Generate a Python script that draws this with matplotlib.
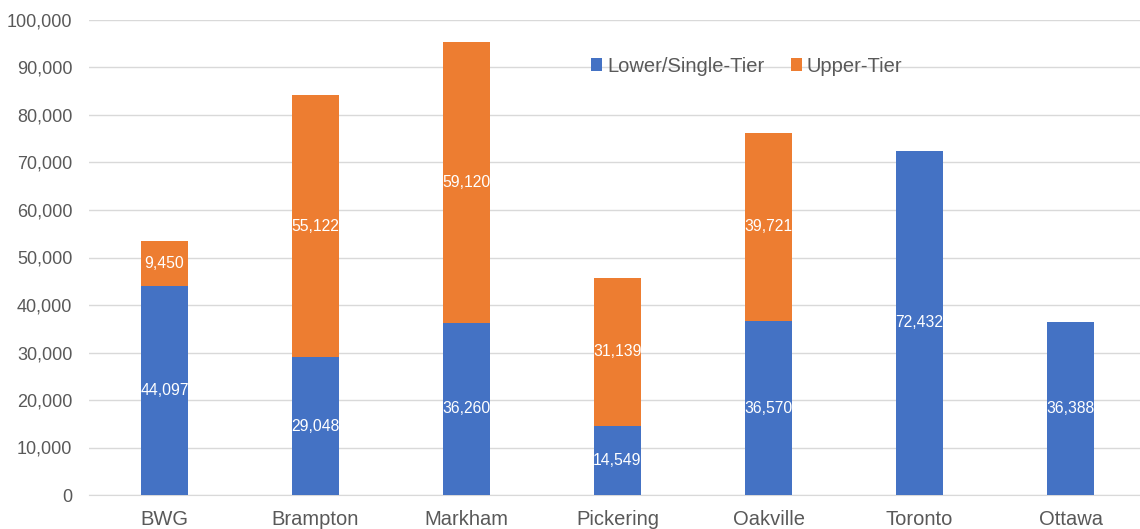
import matplotlib.pyplot as plt
import numpy as np

plt.rcParams['font.family'] = ['Liberation Sans', 'DejaVu Sans']

cities = ['BWG', 'Brampton', 'Markham', 'Pickering', 'Oakville', 'Toronto', 'Ottawa']
lower = [44097, 29048, 36260, 14549, 36570, 72432, 36388]
upper = [9450, 55122, 59120, 31139, 39721, 0, 0]

blue = '#4472C4'
orange = '#ED7D31'
grey = '#595959'

fig = plt.figure(figsize=(11.4, 5.29), dpi=100)
ax = fig.add_axes([89 / 1140, 34 / 529, 1057 / 1140, 475 / 529])

x = np.arange(len(cities))
w = 0.31
ax.bar(x, lower, w, color=blue, label='Lower/Single-Tier', zorder=3)
ax.bar(x, upper, w, bottom=lower, color=orange, label='Upper-Tier', zorder=3)

for i in range(len(cities)):
    ax.text(x[i], lower[i] / 2, '{:,}'.format(lower[i]), ha='center', va='center',
            color='white', fontsize=11.3, zorder=4)
    if upper[i] > 0:
        ax.text(x[i], lower[i] + upper[i] / 2, '{:,}'.format(upper[i]), ha='center',
                va='center', color='white', fontsize=11.3, zorder=4)

ax.set_xlim(-0.5, len(cities) - 0.5)
ax.set_ylim(0, 100000)
ax.set_yticks(np.arange(0, 100001, 10000))
ax.set_yticklabels(['{:,}'.format(v) for v in range(0, 100001, 10000)])
ax.set_xticks(x)
ax.set_xticklabels(cities)
ax.tick_params(axis='y', length=0, labelsize=13, colors=grey, pad=12)
ax.tick_params(axis='x', length=0, labelsize=14.5, colors=grey, pad=11)
ax.yaxis.grid(True, color='#D9D9D9', linewidth=1, zorder=0)
for s in ['top', 'right', 'left']:
    ax.spines[s].set_visible(False)
ax.spines['bottom'].set_color('#D9D9D9')

ax.legend(loc='center', bbox_to_anchor=(0.6225, 0.903), ncol=2, frameon=False,
          fontsize=14.5, handlelength=0.55, handleheight=0.55, handletextpad=0.25,
          columnspacing=1.3, labelcolor=grey)

fig.savefig('out.png', dpi=100)
